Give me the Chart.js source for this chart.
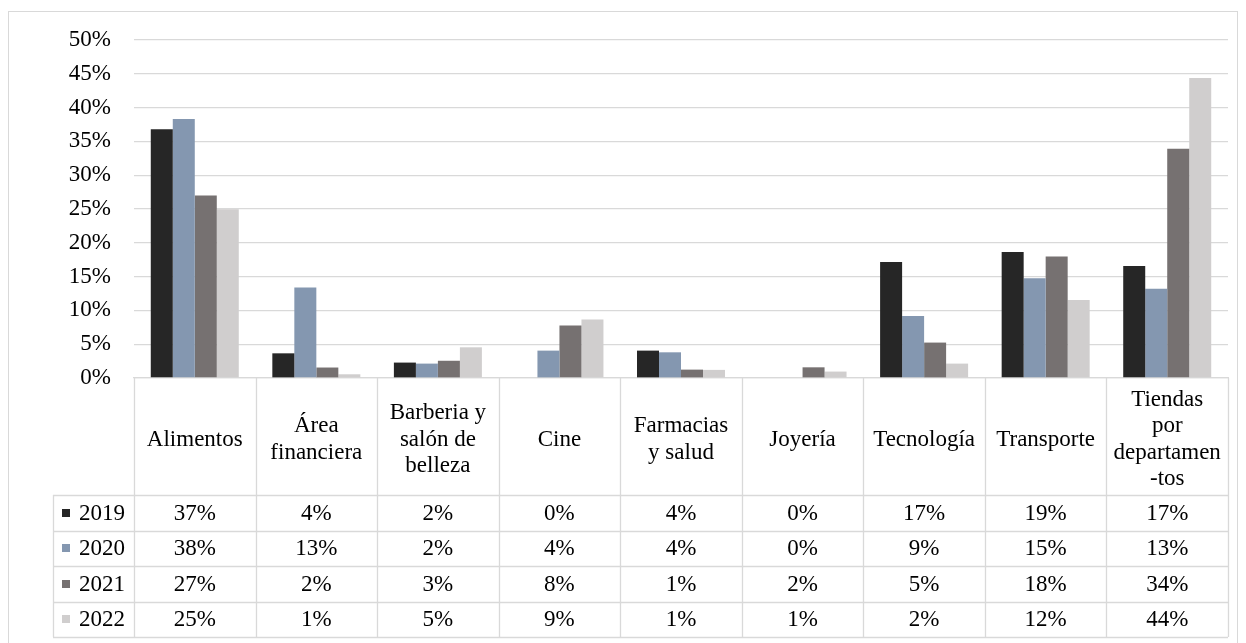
<!DOCTYPE html>
<html lang="es">
<head>
  <meta charset="UTF-8">
  <title>Sectores 2019-2022</title>
  <script src="https://cdn.jsdelivr.net/npm/chart.js"></script>
  <style>
    html, body { margin: 0; padding: 0; background: #fff; }
    .wrap { position: relative; width: 1246px; height: 643px; }
  </style>
</head>
<body>
  <div class="wrap">
    <canvas id="chart" width="1246" height="643"></canvas>
  </div>

  <script>
    // data (percent)
    const categories = [
      'Alimentos',
      ['Área', 'financiera'],
      ['Barberia y', 'salón de', 'belleza'],
      'Cine',
      ['Farmacias', 'y salud'],
      'Joyería',
      'Tecnología',
      'Transporte',
      ['Tiendas', 'por', 'departamen', '-tos']
    ];
    const years = ['2019', '2020', '2021', '2022'];
    const v2019 = [36.8, 3.65, 2.28, 0, 4.05, 0, 17.16, 18.64, 16.55];
    const v2020 = [38.3, 13.4, 2.13, 4.05, 3.8, 0, 9.17, 14.75, 13.22];
    const v2021 = [27.0, 1.55, 2.55, 7.75, 1.24, 1.58, 5.24, 17.96, 33.93];
    const v2022 = [24.95, 0.55, 4.54, 8.64, 1.2, 0.95, 2.13, 11.54, 44.37];
    const yTicks = [0, 5, 10, 15, 20, 25, 30, 35, 40, 45, 50];

    const colors = ['#262626', '#8497B0', '#767171', '#D0CECE'];
    const series = [v2019, v2020, v2021, v2022];
    const font = '"Liberation Serif", "Times New Roman", serif';
    const lineCol = '#D9D9D9';

    // header cell + 4 data rows under the axis
    const headerH = 117, rowH = 35.5, legendLeft = 53;

    const tablePlugin = {
      id: 'dataTable',
      beforeDraw(chart) {
        const ctx = chart.ctx;
        ctx.save();
        ctx.strokeStyle = lineCol;
        ctx.lineWidth = 1;
        ctx.strokeRect(8.5, 11.5, 1229, 640);
        ctx.restore();
      },
      afterDraw(chart) {
        const ctx = chart.ctx;
        const xs = chart.scales.x;
        const area = chart.chartArea;
        const n = categories.length;
        const cw = (area.right - area.left) / n;
        const top = area.bottom;
        const rowsTop = top + headerH;
        const bottom = rowsTop + rowH * years.length;

        ctx.save();
        ctx.strokeStyle = lineCol;
        ctx.lineWidth = 1.3;
        ctx.beginPath();
        for (let k = 0; k <= n; k++) {
          const x = Math.round(area.left + k * cw) + 0.5;
          ctx.moveTo(x, top);
          ctx.lineTo(x, bottom);
        }
        ctx.moveTo(legendLeft + 0.5, rowsTop);
        ctx.lineTo(legendLeft + 0.5, bottom);
        for (let r = 0; r <= years.length; r++) {
          const y = Math.round(rowsTop + r * rowH) + 0.5;
          ctx.moveTo(legendLeft, y);
          ctx.lineTo(area.right, y);
        }
        ctx.stroke();

        ctx.font = '23px ' + font;
        ctx.textBaseline = 'middle';
        ctx.fillStyle = '#000';
        years.forEach((yr, r) => {
          const cy = rowsTop + r * rowH + rowH / 2;
          ctx.fillStyle = colors[r];
          ctx.fillRect(62, Math.round(cy - 4), 8, 8);
          ctx.fillStyle = '#000';
          ctx.textAlign = 'left';
          ctx.fillText(yr, 79, cy + 1);
          ctx.textAlign = 'center';
          series[r].forEach((v, i) => {
            ctx.fillText(Math.round(v) + '%', xs.getPixelForValue(i), cy + 1);
          });
        });
        ctx.restore();
      }
    };

    new Chart(document.getElementById('chart'), {
      type: 'bar',
      data: {
        labels: categories,
        datasets: years.map((yr, i) => ({
          label: yr,
          data: series[i],
          backgroundColor: colors[i],
          borderWidth: 0,
          categoryPercentage: 0.724,
          barPercentage: 1
        }))
      },
      options: {
        responsive: false,
        animation: false,
        layout: { padding: { left: 0, top: 40, right: 18, bottom: 0 } },
        plugins: { legend: { display: false }, tooltip: { enabled: false } },
        scales: {
          x: {
            offset: true,
            grid: { display: false },
            border: { display: true, color: lineCol, width: 1.3 },
            ticks: {
              autoSkip: false,
              maxRotation: 0,
              minRotation: 0,
              crossAlign: 'center',
              padding: 14,
              color: '#000',
              font: { family: font, size: 23, lineHeight: 1.15 }
            },
            afterFit(scale) { scale.height = 265; }
          },
          y: {
            min: 0,
            max: 50,
            afterBuildTicks(scale) { scale.ticks = yTicks.map(v => ({ value: v })); },
            grid: { color: lineCol, lineWidth: 1.3, drawTicks: false },
            border: { display: false },
            ticks: {
              padding: 23,
              color: '#000',
              font: { family: font, size: 23 },
              callback: v => v + '%'
            },
            afterFit(scale) { scale.width = 134; }
          }
        }
      },
      plugins: [tablePlugin]
    });
  </script>
</body>
</html>
